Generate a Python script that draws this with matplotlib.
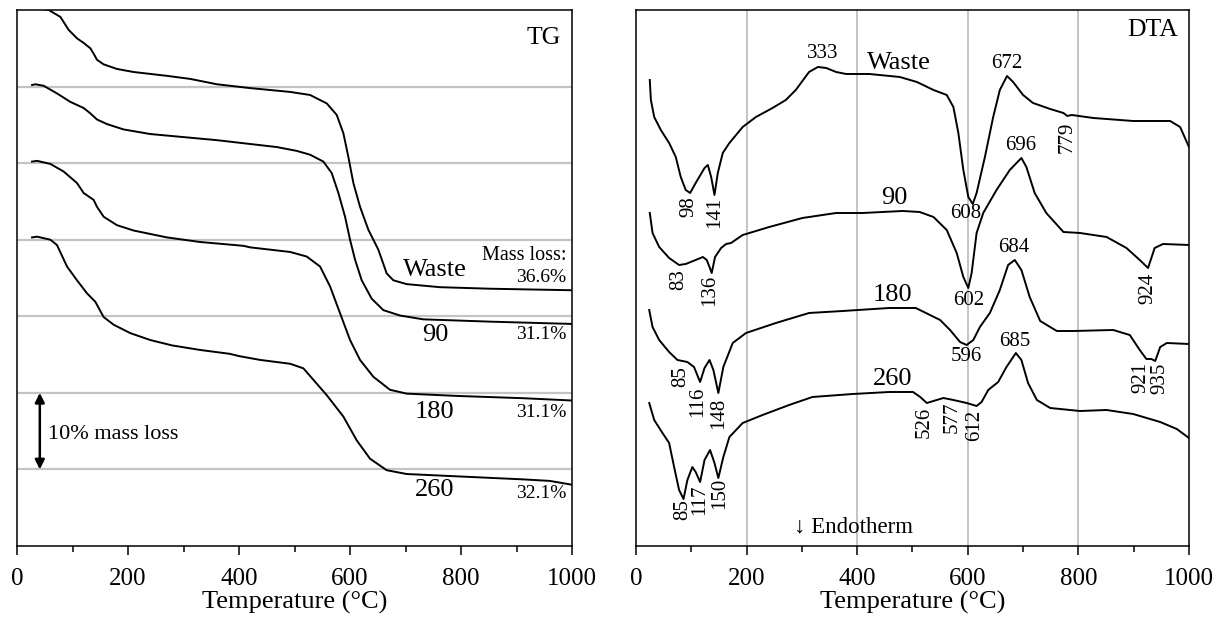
import matplotlib
matplotlib.use("Agg")
import matplotlib.pyplot as plt
from matplotlib.ticker import MultipleLocator

plt.rcParams['font.family'] = ['Liberation Serif', 'DejaVu Serif']

# ---- TG data (mass %, curves offset by 10 % each) ----
tg_waste_T = [25, 57, 78, 93, 108, 120, 132, 138, 144, 156, 180, 210, 270, 312, 360, 420,
              492, 528, 558, 576, 588, 597, 606, 618, 633, 651, 666, 678, 702, 762, 852, 1000]
tg_waste_m = [70.4, 70.0, 69.1, 67.4, 66.3, 65.7, 65.0, 64.3, 63.5, 62.9, 62.3, 61.9, 61.4,
              61.0, 60.3, 59.8, 59.3, 58.9, 57.8, 56.3, 53.9, 50.8, 47.4, 44.3, 41.3, 38.7,
              35.6, 34.7, 34.2, 33.8, 33.6, 33.4]

tg_90_T = [27, 33, 48, 72, 96, 120, 132, 144, 162, 192, 240, 300, 360, 420, 468, 504, 528,
           552, 567, 579, 591, 600, 609, 621, 639, 660, 690, 732, 852, 1000]
tg_90_m = [60.2, 60.3, 60.1, 59.1, 58.0, 57.2, 56.5, 55.7, 55.1, 54.4, 53.8, 53.4, 53.0,
           52.5, 52.1, 51.6, 51.1, 50.2, 48.7, 46.1, 43.0, 40.0, 37.4, 34.7, 32.3, 30.8,
           30.1, 29.6, 29.3, 29.0]

tg_180_T = [27, 36, 60, 84, 108, 120, 138, 144, 156, 180, 210, 270, 330, 408, 420, 492, 522,
            546, 564, 582, 600, 618, 642, 672, 702, 792, 912, 1000]
tg_180_m = [50.2, 50.3, 49.9, 48.9, 47.4, 46.1, 45.2, 44.3, 43.0, 41.9, 41.2, 40.3, 39.7,
            39.2, 39.0, 38.4, 37.8, 36.5, 33.9, 30.4, 26.9, 24.3, 22.1, 20.4, 19.9, 19.6,
            19.3, 19.0]

tg_260_T = [27, 36, 60, 72, 90, 108, 126, 141, 156, 174, 204, 240, 279, 330, 383, 400, 438,
            492, 516, 534, 558, 588, 612, 636, 666, 702, 792, 912, 960, 1000]
tg_260_m = [40.3, 40.4, 40.0, 39.3, 36.5, 34.7, 33.0, 31.9, 29.9, 28.9, 27.8, 26.9, 26.2,
            25.6, 25.1, 24.8, 24.3, 23.8, 23.2, 21.7, 19.7, 16.9, 13.8, 11.4, 9.9, 9.4, 9.1,
            8.7, 8.5, 8.0]

tg_names = ['Waste', '90', '180', '260']
tg_losses = ['36.6%', '31.1%', '31.1%', '32.1%']
tg_name_y = [36.0, 27.6, 17.5, 7.3]
tg_loss_y = [35.0, 27.6, 17.4, 6.9]

# ---- DTA data (arbitrary units) ----
dta_waste_T = [25, 27, 33, 45, 60, 72, 81, 90, 98, 108, 124, 130, 136, 142, 148, 157, 169,
               193, 217, 247, 271, 289, 313, 329, 344, 362, 380, 422, 477, 508, 538, 562,
               574, 583, 592, 601, 609, 616, 631, 646, 658, 671, 682, 700, 718, 749, 773,
               780, 788, 827, 899, 966, 984, 1000]
dta_waste_s = [466, 446, 429, 416, 403, 389, 369, 356, 353, 363, 378, 381, 369, 351, 373,
               393, 403, 419, 429, 438, 446, 456, 474, 479, 478, 474, 472, 472, 469, 464,
               456, 451, 439, 413, 376, 349, 342, 353, 389, 429, 456, 470, 464, 451, 443,
               437, 433, 430, 431, 428, 425, 425, 419, 399]

dta_90_T = [25, 30, 42, 60, 78, 90, 108, 121, 128, 133, 137, 143, 154, 163, 172, 193, 241,
            301, 362, 410, 482, 513, 538, 562, 580, 592, 601, 607, 616, 628, 652, 676, 697,
            706, 721, 742, 773, 803, 851, 887, 911, 926, 938, 953, 1000]
dta_90_s = [333, 313, 299, 288, 281, 282, 286, 289, 286, 279, 273, 289, 298, 302, 303, 311,
            319, 328, 333, 333, 335, 334, 329, 316, 293, 269, 258, 273, 313, 333, 356, 376,
            388, 379, 353, 333, 314, 313, 309, 298, 286, 278, 298, 302, 301]

dta_180_T = [24, 30, 42, 60, 75, 93, 105, 116, 124, 133, 140, 149, 158, 175, 199, 253, 313,
             374, 458, 506, 550, 568, 586, 598, 610, 622, 640, 658, 673, 685, 697, 712, 731,
             761, 791, 863, 893, 911, 923, 932, 939, 948, 960, 1000]
dta_180_s = [236, 219, 206, 194, 186, 184, 179, 164, 178, 186, 176, 153, 179, 203, 213, 223,
             233, 235, 238, 238, 226, 216, 204, 201, 206, 219, 233, 256, 281, 286, 276, 249,
             225, 215, 215, 216, 211, 196, 187, 187, 185, 199, 203, 202]

dta_260_T = [24, 33, 48, 60, 69, 78, 86, 93, 102, 108, 116, 124, 134, 142, 149, 158, 169,
             193, 229, 277, 319, 392, 458, 501, 514, 526, 538, 556, 574, 598, 616, 625, 637,
             655, 670, 687, 697, 709, 725, 749, 803, 851, 899, 948, 978, 1000]
dta_260_s = [143, 126, 113, 103, 79, 56, 47, 66, 79, 74, 64, 86, 96, 83, 68, 89, 109, 123,
             131, 141, 149, 152, 154, 154, 149, 143, 145, 148, 146, 143, 140, 144, 156, 164,
             179, 193, 186, 163, 146, 138, 135, 136, 132, 124, 117, 108]

# peak labels: text, temperature, signal, rotation
dta_labels = [
    ('333', 338, 492, 0), ('672', 671, 482, 0), ('779', 779, 409, 90),
    ('98', 96, 339, 90), ('141', 142, 334, 90), ('608', 597, 332, 0),
    ('696', 695, 400, 0), ('83', 78, 266, 90), ('136', 134, 256, 90),
    ('602', 601, 245, 0), ('924', 925, 258, 90), ('684', 683, 298, 0),
    ('596', 597, 189, 0), ('685', 685, 204, 0), ('85', 81, 169, 90),
    ('116', 112, 144, 90), ('148', 149, 133, 90), ('921', 913, 169, 90),
    ('935', 947, 168, 90), ('526', 521, 124, 90), ('577', 571, 129, 90),
    ('612', 612, 121, 90), ('85', 84, 36, 90), ('117', 115, 46, 90),
    ('150', 151, 53, 90),
]
dta_names = ['Waste', '90', '180', '260']
dta_name_T = [476, 467, 464, 464]
dta_name_s = [483, 348, 251, 167]

fig = plt.figure(figsize=(12.27, 6.24), dpi=100)
ax1 = fig.add_axes([0.0139, 0.125, 0.4523, 0.859])
ax2 = fig.add_axes([0.5183, 0.125, 0.4507, 0.859])

for ax in (ax1, ax2):
    ax.set_xlim(0, 1000)
    ax.xaxis.set_major_locator(MultipleLocator(200))
    ax.xaxis.set_minor_locator(MultipleLocator(100))
    ax.tick_params(axis='x', which='major', direction='out', length=6.5, width=1.1,
                   labelsize=18, pad=9)
    ax.tick_params(axis='x', which='minor', direction='out', length=4.3, width=1.1)
    ax.set_yticks([])
    ax.set_xlabel('Temperature (°C)', fontsize=19, labelpad=1)
    for sp in ax.spines.values():
        sp.set_linewidth(1.1)

# TG panel
ax1.set_ylim(0, 70)
for g in range(10, 70, 10):
    ax1.axhline(g, color='#c4c4c4', lw=1.6, zorder=1)
for T, m in [(tg_waste_T, tg_waste_m), (tg_90_T, tg_90_m),
             (tg_180_T, tg_180_m), (tg_260_T, tg_260_m)]:
    ax1.plot(T, m, color='black', lw=1.4, zorder=3)
for name, ny in zip(tg_names, tg_name_y):
    ax1.text(753, ny, name, fontsize=19, ha='center', va='center')
for loss, ly in zip(tg_losses, tg_loss_y):
    ax1.text(990, ly, loss, fontsize=14, ha='right', va='center')
ax1.text(990, 38.0, 'Mass loss:', fontsize=14.5, ha='right', va='center')
ax1.text(980, 66.4, 'TG', fontsize=18.5, ha='right', va='center')
ax1.annotate('', xy=(41, 10), xytext=(41, 20),
             arrowprops=dict(arrowstyle='<|-|>', color='black', lw=1.8,
                             mutation_scale=14, shrinkA=0, shrinkB=0))
ax1.text(55, 14.6, '10% mass loss', fontsize=16, ha='left', va='center')

# DTA panel
ax2.set_ylim(0, 536)
for g in range(200, 1000, 200):
    ax2.axvline(g, color='#c4c4c4', lw=1.4, zorder=1)
for T, s in [(dta_waste_T, dta_waste_s), (dta_90_T, dta_90_s),
             (dta_180_T, dta_180_s), (dta_260_T, dta_260_s)]:
    ax2.plot(T, s, color='black', lw=1.4, zorder=3)
for txt, T, s, rot in dta_labels:
    ax2.text(T, s, txt, fontsize=15, ha='center', va='center', rotation=rot)
for name, T, s in zip(dta_names, dta_name_T, dta_name_s):
    ax2.text(T, s, name, fontsize=19, ha='center', va='center')
ax2.text(980, 516, 'DTA', fontsize=18.5, ha='right', va='center')
ax2.text(285, 19, '↓ Endotherm', fontsize=16.5, ha='left', va='center')

fig.savefig('out.png', dpi=100)
